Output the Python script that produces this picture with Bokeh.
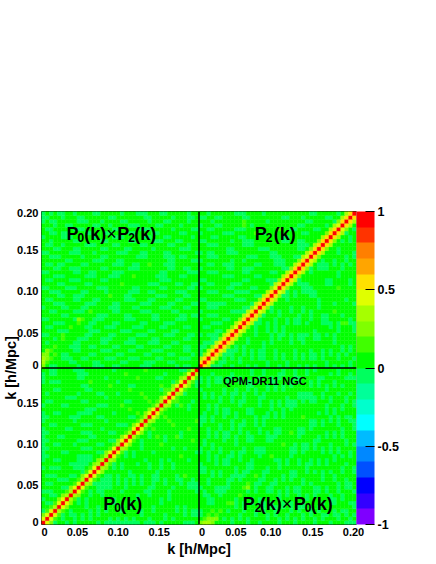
from bokeh.plotting import figure
from bokeh.embed import file_html
from bokeh.resources import INLINE
from bokeh.models import (ColumnDataSource, LinearColorMapper, ColorBar, FixedTicker, Label, Span)
from bokeh.transform import transform

# ---- data: correlation matrix, one character per cell
# '.' 0..0.1   '-' -0.1..0   '=' -0.2..-0.1   '1' 0.1..0.2   '2' 0.2..0.3   '3' 0.3..0.4
cell_value = {'.': 0.05, '-': -0.05, '=': -0.15, '1': 0.15, '2': 0.25, '3': 0.35, '4': 0.45, '5': 0.55}

# P0 x P2 block (top-left), 40 rows from the top, 40 cols from the left
p0p2_rows = [
 "-.-.--..-....--.....-...---...--.....-..",
 "--...-...--......--.......--.....-...--.",
 "-.--.....---...-....--.....-...--....-..",
 "...-..--.....--..-....---....--....-....",
 ".--.....---.......--.....---.....-....--",
 "..--.--....--...--....--....--.....--...",
 "-....---.....-....---.....--...--.....-.",
 "..-.....--.....--.....--....---...--....",
 ".--..-.....---....--.....--.....--...-..",
 "...--...--.....--....--.....-......---..",
 "--.....---...-.....---...--....--......-",
 "..---.....-....--.......---....---.--...",
 "......--.....---...--...........--....--",
 ".--.--....--......---..--..1...---......",
 "...--..---.....--.....---.......--..--..",
 "--......--..--....---.........--.....---",
 "...---.....---...---...1.....---...--...",
 ".--....---.....--.............---.......",
 "....--.....--.......1......---....--..--",
 "--....---.....---......--.....--.....--.",
 "..---.....--....-.....---..--.....---...",
 "....--..---......1...--......---....--..",
 ".--.....--...--......---...--.....--....",
 "...---.....---....--.....---....--....--",
 "-....--...--.....---...--.....---...--..",
 "..--....---.1.....--.....---.....--.....",
 ".....--.......---....--.....--.....--.--",
 "--......-21..---.....---....--....---...",
 "...---...1..--....--.....--....---......",
 ".--....1...--...---....---....--....--..",
 "....---.....---.....---....--....--.....",
 "--...1.....--....--.....---....---...--.",
 "...-.1...---...---....--....--......--..",
 ".-......--.....--....---...---...--......",
 "...1...---..--....--....--.....--...--..",
 ".21.....--.....---....--....---.....--..",
 "22.1.--.....--.....--.....--....--....-.",
 "321..---..--....---...---....--....---..",
 "31.....--....--.....--....---...--......",
 "2.--.....-...---..--.....---......-.--..",
]

# P0 block (bottom-left), rows from the top, each row stops short of the diagonal
p0_rows = [
 "..--....---.......-.......1........--...",
 "-.--.....---.........1.........-.......",
 "-........--.....-.......1....--.......",
 "-.---.......1......-.............-....",
 "..........--.....1....--......1....-",
 "...--......--.........1.......-1...",
 ".-.......-....--...-.....1.......",
 "......---.......-.........1.....",
 ".--.......--.........--....1...",
 "-....--.......---...1.......-.",
 "...........---........1....--.",
 "-..--....----.....-.....1...-",
 "--.....---....--......--....",
 "-.......-.......-.........1",
 "..--......---......---....",
 "-.....--.......-........-",
 "--........---....--....-",
 "-...--......--........-",
 "--.......---.....--..",
 "-..--...-.....--.....",
 "--........---.......",
 "-....--.......--...",
 "--.......----.....",
 "-..--....----...",
 ".......-----..-",
 "-.---...---...",
 "..........-.-",
 ".---...--...",
 "....---....",
 ".--.....-.",
 ".....--..",
 "---.....",
 "..--...",
 "-.....",
 ".--..",
 "...-",
 "--.",
 "..",
 ".",
]

# P2 block (top-right), rows from the top, each row stops short of the diagonal
p2_rows = [
 "..-......---....-...........--.....-...",
 "--..--.....--........--...-.....--.....",
 "...-.......1.....-.........--.....-...",
 "-...--.....1.-...........--.....-....",
 "..--.....---........1..--....--.....",
 "-.....---.....1.-.........--.....-.",
 "...--.....--.........--........--.",
 "--......-..---.......--..--.....",
 "..---......---...........---...",
 ".......--......---.......--...",
 "-.--...---........--.........",
 "..---.......---...---...--...",
 "-.......-..-.......---.....",
 "..--..---.....--...---....",
 "-......--..---.......--..",
 "..---......--.....--...",
 "......---.....--......",
 "--.........--....---.",
 "..--....---.......--",
 "-......--....--....",
 "..---....----.....",
 "......---.....--.",
 "--.......---....",
 "..-----......--",
 "..---......--.",
 "-.......----.",
 "..---......-",
 "-.....--...",
 "...---....",
 ".--......",
 "....--..",
 "-.---..",
 "...--.",
 ".---.",
 "--..",
 "-.-",
 "--",
 "-",
 "",
]

# values beside the diagonal, from low k to high k
p0_adjacent = list("444344334434443334434434433443344344343")
p0_second = list("21112212112112212112211211221121121211")
p2_adjacent = list("554555555455554555545555555455555554555")
p2_second = list("32323233232332323323233232332323233233")
diagonal_value = 1.0

level_colors = ["#7f00ff", "#3300ff", "#0000ff", "#0050ff", "#0088ff", "#00bbff", "#00ffff", "#00ffcc", "#00ff99", "#00ff5e",
                "#00ff00", "#40ff00", "#80ff00", "#a6ff00", "#e0ff00", "#ffe000", "#ffa500", "#ff7f00", "#ff3300", "#ff0000"]

x_tick_labels = ["0", "0.05", "0.10", "0.15", "0", "0.05", "0.10", "0.15", "0.20"]
y_tick_labels = ["0", "0.05", "0.10", "0.15", "0", "0.05", "0.10", "0.15", "0.20"]
bar_ticks = [-1, -0.5, 0, 0.5, 1]
axis_title = "k [h/Mpc]"

# ---- layout helpers (page pixels to cell coordinates)
FL, FR, FT, FB = 40, 356, 211, 524
W, H = 436, 560
N = 80
def X(px): return (px - FL) * N / (FR - FL)
def Y(py): return (FB - py) * N / (FB - FT)

x_tick_px = [43, 76, 117, 158, 201, 235, 270, 312, 353]
y_tick_py = [521, 484, 443, 402, 364, 332, 290, 249, 212]

# ---- build the matrix
M = [[0.05] * N for _ in range(N)]
for r, row in enumerate(p0p2_rows):
    for c, ch in enumerate(row[:40]):
        j = 79 - r
        M[j][c] = cell_value[ch]
        M[c][j] = cell_value[ch]
for r, row in enumerate(p0_rows):
    j = 39 - r
    for i, ch in enumerate(row[:j]):
        M[j][i] = cell_value[ch]
        M[i][j] = cell_value[ch]
for r, row in enumerate(p2_rows):
    j = 39 - r
    for i, ch in enumerate(row[:j]):
        M[40 + j][40 + i] = cell_value[ch]
        M[40 + i][40 + j] = cell_value[ch]
for base, adj, sec in ((0, p0_adjacent, p0_second), (40, p2_adjacent, p2_second)):
    for i in range(40):
        M[base + i][base + i] = diagonal_value
    for i, ch in enumerate(adj):
        M[base + i][base + i + 1] = M[base + i + 1][base + i] = cell_value[ch]
    for i, ch in enumerate(sec):
        M[base + i][base + i + 2] = M[base + i + 2][base + i] = cell_value[ch]

xs, ys, vs = [], [], []
for j in range(N):
    for i in range(N):
        xs.append(i + 0.5)
        ys.append(j + 0.5)
        vs.append(M[j][i])
source = ColumnDataSource(dict(x=xs, y=ys, v=vs))

mapper = LinearColorMapper(palette=level_colors, low=-1, high=1)

p = figure(width=W, height=H, x_range=(0, N), y_range=(0, N), output_backend="svg", toolbar_location=None,
           min_border_left=FL, min_border_top=FT, min_border_right=W - FR, min_border_bottom=H - FB,
           background_fill_color="white")
p.grid.visible = False
p.outline_line_color = "#103010"
p.outline_line_width = 1

p.rect("x", "y", width=1, height=1, source=source, fill_color=transform("v", mapper),
       line_color=transform("v", mapper), line_width=0.4)

p.add_layout(Span(location=40, dimension="height", line_color="black", line_width=1.5))
p.add_layout(Span(location=40, dimension="width", line_color="black", line_width=1.5))

FONT = "Liberation Sans"
for ax, labels, pos in ((p.xaxis[0], x_tick_labels, [X(v) for v in x_tick_px]),
                        (p.yaxis[0], y_tick_labels, [Y(v) for v in y_tick_py])):
    ax.ticker = FixedTicker(ticks=pos)
    ax.major_label_overrides = {t: l for t, l in zip(pos, labels)}
    ax.major_tick_line_color = None
    ax.major_tick_in = 0
    ax.major_tick_out = 0
    ax.minor_tick_line_color = None
    ax.minor_tick_in = 0
    ax.minor_tick_out = 0
    ax.axis_line_color = None
    ax.major_label_text_font = FONT
    ax.major_label_text_font_style = "bold"
    ax.major_label_text_font_size = "11px"
    ax.major_label_text_color = "black"
    ax.major_label_standoff = 3
    ax.axis_label = axis_title
    ax.axis_label_text_font = FONT
    ax.axis_label_text_font_style = "bold"
    ax.axis_label_text_font_size = "14.5px"
    ax.axis_label_text_color = "black"
p.xaxis[0].axis_label_standoff = 2
p.yaxis[0].axis_label_standoff = -5

cb = ColorBar(color_mapper=mapper, ticker=FixedTicker(ticks=bar_ticks), width=18, height=FB - FT, padding=0, margin=1,
              major_tick_in=9, major_tick_out=0, major_tick_line_color="black", minor_tick_line_color=None,
              bar_line_color=None, border_line_color=None, label_standoff=3, location="top_left",
              major_label_overrides={-1: "-1", -0.5: "-0.5", 0: "0", 0.5: "0.5", 1: "1"},
              major_label_text_font=FONT, major_label_text_font_style="bold", major_label_text_font_size="12.5px",
              major_label_text_color="black")
p.add_layout(cb, "right")

def txt(px, py, s, size=18, style="bold"):
    p.add_layout(Label(x=X(px), y=Y(py), text=s, text_font=FONT, text_font_style=style, text_font_size=f"{size}px",
                       text_color="black", text_align="left", text_baseline="alphabetic"))

# P0(k) x P2(k)
txt(65, 233, "P"); txt(76, 237, "0", 12); txt(83, 233, "(k)"); txt(105, 233, "\u00d7", 18, "normal"); txt(116, 233, "P"); txt(127, 237, "2", 12); txt(133, 233, "(k)")
# P2(k)
txt(254, 233, "P"); txt(265, 237, "2", 12); txt(273, 233, "(k)")
# P0(k)
txt(102, 503, "P"); txt(113, 507, "0", 12); txt(119, 503, "(k)")
# P2(k) x P0(k)
txt(242, 503, "P"); txt(254, 507, "2", 12); txt(259, 503, "(k)"); txt(281, 503, "\u00d7", 18, "normal"); txt(293, 503, "P"); txt(304, 507, "0", 12); txt(310, 503, "(k)")
txt(222, 380, "QPM-DR11 NGC", 11)

open("out.html", "w").write(file_html(p, INLINE))
